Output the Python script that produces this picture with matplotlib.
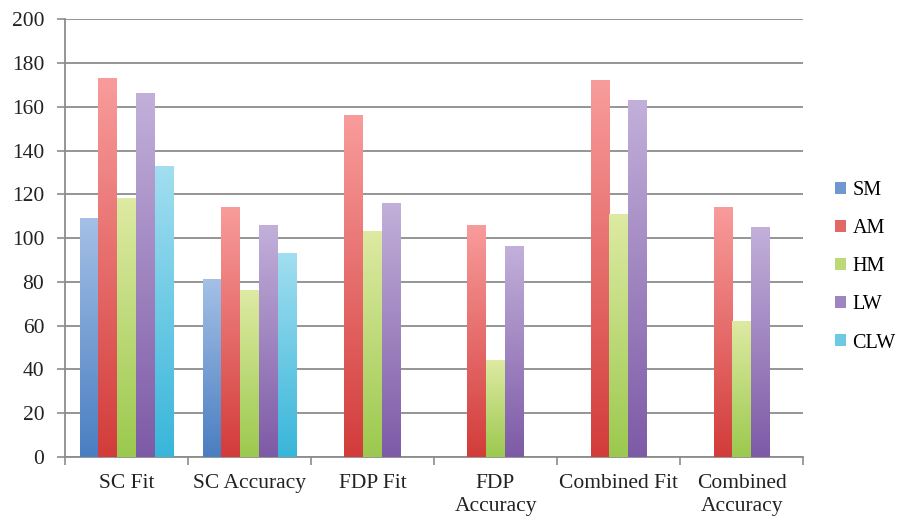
import numpy as np
import matplotlib.pyplot as plt
from matplotlib.colors import LinearSegmentedColormap
from matplotlib.patches import Patch

categories = ['SC Fit', 'SC Accuracy', 'FDP Fit', 'FDP\nAccuracy',
              'Combined Fit', 'Combined\nAccuracy']
series = ['SM', 'AM', 'HM', 'LW', 'CLW']
sm = [109, 81, np.nan, np.nan, np.nan, np.nan]
am = [173, 114, 156, 106, 172, 114]
hm = [118, 76, 103, 44, 111, 62]
lw = [166, 106, 116, 96, 163, 105]
clw = [133, 93, np.nan, np.nan, np.nan, np.nan]
values = [sm, am, hm, lw, clw]
yticks = list(range(0, 201, 20))

# bottom / top colour of each bar gradient
bottoms = ['#4A7EC1', '#D23C3A', '#9BC94E', '#7D5AA6', '#38B6DA']
tops = ['#A4C0E6', '#F89C9B', '#DEEAA3', '#C2B0DA', '#A2DEF0']

plt.rcParams['font.family'] = ['Liberation Serif', 'DejaVu Serif']
plt.rcParams['font.size'] = 15.5

fig = plt.figure(figsize=(8.99, 5.18), dpi=100)
ax = fig.add_axes([0.0723, 0.1178, 0.8210, 0.8446])

n = len(categories)
width = 0.152
x0 = np.arange(n) + 0.12 + width / 2
grad = np.linspace(0, 1, 256).reshape(-1, 1)

for k, name in enumerate(series):
    cmap = LinearSegmentedColormap.from_list(name, [bottoms[k], tops[k]])
    bars = ax.bar(x0 + k * width, values[k], width, color='none',
                  edgecolor='none', zorder=3)
    for b in bars:
        h = b.get_height()
        if not np.isfinite(h) or h <= 0:
            continue
        x = b.get_x()
        ax.imshow(grad, cmap=cmap, origin='lower', aspect='auto',
                  extent=(x, x + width, 0, h), zorder=3, interpolation='bilinear')

ax.set_xlim(0, n)
ax.set_ylim(0, 200)
ax.set_yticks(yticks)
ax.yaxis.grid(True, color='#8C8C8C', linewidth=1.3, zorder=0)
ax.set_axisbelow(True)

ax.set_xticks(np.arange(n + 1))
ax.set_xticklabels([])
ax.set_xticks(np.arange(n) + 0.5, minor=True)
ax.set_xticklabels(categories, minor=True, linespacing=1.3)
ax.tick_params(axis='x', which='minor', length=0, pad=12)
ax.tick_params(axis='x', which='major', length=6, width=1.2, color='#8C8C8C',
               direction='out')
ax.tick_params(axis='y', length=6, width=1.2, color='#8C8C8C', pad=9,
               labelcolor='#222222')
ax.tick_params(axis='x', which='minor', labelcolor='#222222')

for s in ['top', 'right']:
    ax.spines[s].set_visible(False)
for s in ['left', 'bottom']:
    ax.spines[s].set_color('#8C8C8C')
    ax.spines[s].set_linewidth(1.3)

handles = [Patch(facecolor=c, edgecolor='none') for c in
           ['#6F97D0', '#E36766', '#BCD978', '#9F85BF', '#6CCAE5']]
fig.legend(handles, series, loc='center left', bbox_to_anchor=(0.918, 0.485),
           frameon=False, handlelength=0.55, handleheight=0.55,
           handletextpad=0.3, labelspacing=0.95, borderpad=0, fontsize=14.5)

fig.savefig('out.png', dpi=100)
